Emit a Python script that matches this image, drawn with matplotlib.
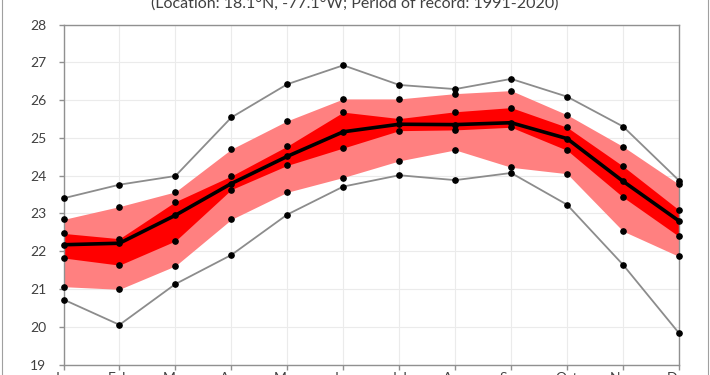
import numpy as np
import matplotlib.pyplot as plt
from matplotlib.patches import Rectangle

plt.rcParams['font.family'] = ['Lato', 'DejaVu Sans']

months = ['Jan', 'Feb', 'Mar', 'Apr', 'May', 'Jun', 'Jul', 'Aug', 'Sep', 'Oct', 'Nov', 'Dec']
tMax = [23.40, 23.76, 23.99, 25.54, 26.42, 26.92, 26.40, 26.29, 26.56, 26.09, 25.30, 23.87]
p90 = [22.84, 23.18, 23.57, 24.70, 25.45, 26.03, 26.03, 26.17, 26.25, 25.61, 24.77, 23.77]
p75 = [22.47, 22.33, 23.31, 23.99, 24.78, 25.68, 25.51, 25.69, 25.80, 25.28, 24.25, 23.09]
median = [22.17, 22.21, 22.95, 23.79, 24.51, 25.16, 25.36, 25.35, 25.40, 24.98, 23.85, 22.80]
p25 = [21.82, 21.63, 22.27, 23.63, 24.27, 24.73, 25.19, 25.21, 25.28, 24.67, 23.43, 22.39]
p10 = [21.06, 20.99, 21.61, 22.84, 23.56, 23.95, 24.39, 24.68, 24.22, 24.05, 22.53, 21.86]
tMin = [20.72, 20.05, 21.13, 21.90, 22.97, 23.71, 24.01, 23.88, 24.07, 23.23, 21.64, 19.83]

subtitle = '(Location: 18.1°N, -77.1°W; Period of record: 1991-2020)'

W, H = 710, 375
fig = plt.figure(figsize=(W / 100, H / 100), dpi=100)
ax = fig.add_axes([63.5 / W, (H - 364.5) / H, (679 - 63.5) / W, (364.5 - 24.5) / H])

x = np.arange(len(months))
gray = '#8c8c8c'

ax.fill_between(x, p10, p90, color='#ff8080', lw=0, zorder=1)
ax.fill_between(x, p25, p75, color='#ff0000', lw=0, zorder=2)
ax.plot(x, tMax, color=gray, lw=1.3, zorder=3)
ax.plot(x, tMin, color=gray, lw=1.3, zorder=3)
ax.plot(x, median, color='black', lw=2.6, zorder=4)

for series in [tMax, p90, p75, median, p25, p10, tMin]:
    ax.plot(x, series, 'o', color='black', ms=3.8, zorder=5, clip_on=False)

ax.set_xlim(0, 11)
ax.set_ylim(19, 28)
ax.set_xticks(x)
ax.set_xticklabels(months)
ax.set_yticks(range(19, 29))
ax.grid(True, color='#ebebeb', lw=0.8, zorder=0)
ax.set_axisbelow(True)
for s in ax.spines.values():
    s.set_color('#909090')
    s.set_linewidth(1.0)
ax.tick_params(axis='both', colors='#909090', labelcolor='#404040', labelsize=10, length=3.5, width=1.0, pad=2)
ax.tick_params(axis='y', pad=9)

fig.text(0.5, 1 - 7.5 / H, subtitle, ha='center', va='baseline', fontsize=11.5, color='#404040')

fig.patches.append(Rectangle((2 / W, -0.1), 706 / W, 1.2, transform=fig.transFigure,
                             fill=False, edgecolor='#a0a0a0', lw=0.8))

fig.savefig('out.png', dpi=100)
